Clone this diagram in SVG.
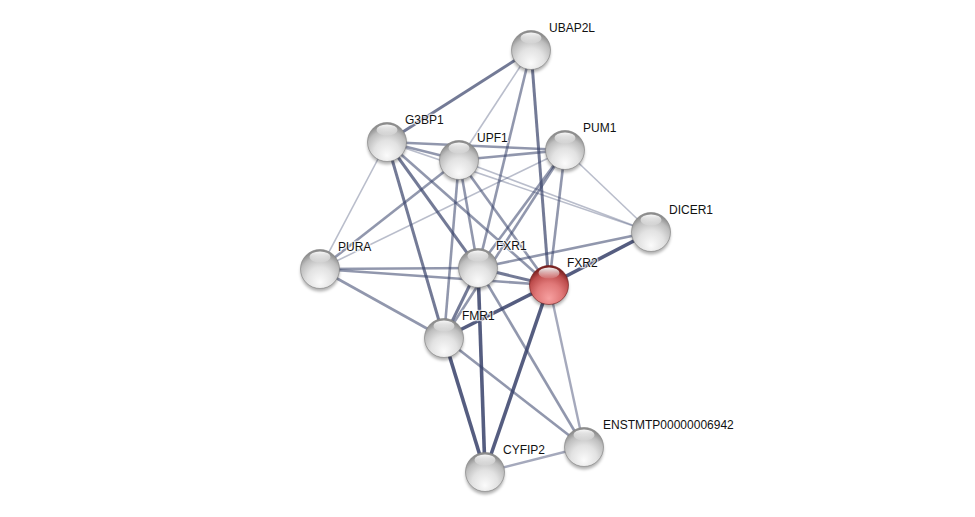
<svg xmlns="http://www.w3.org/2000/svg" width="975" height="517" viewBox="0 0 975 517">
<defs>
<radialGradient id="gW" cx="50%" cy="72%" r="66%" fx="50%" fy="85%">
<stop offset="0" stop-color="#fbfbfb"/>
<stop offset="0.5" stop-color="#e2e2e2"/>
<stop offset="0.82" stop-color="#bdbdbd"/>
<stop offset="1" stop-color="#8e8e8e"/>
</radialGradient>
<radialGradient id="gR" cx="50%" cy="72%" r="66%" fx="50%" fy="85%">
<stop offset="0" stop-color="#f7a0a0"/>
<stop offset="0.5" stop-color="#e07878"/>
<stop offset="0.82" stop-color="#bd4c4c"/>
<stop offset="1" stop-color="#7c2222"/>
</radialGradient>
<linearGradient id="hl" x1="0" y1="0" x2="0" y2="1">
<stop offset="0" stop-color="#ffffff" stop-opacity="0.95"/>
<stop offset="1" stop-color="#ffffff" stop-opacity="0.1"/>
</linearGradient>
<filter id="sh" x="-50%" y="-50%" width="200%" height="200%">
<feGaussianBlur stdDeviation="1.6"/>
</filter>
<style>
.e{stroke:#37416a;fill:none;stroke-linecap:butt}
.e1{stroke-width:1.6;stroke-opacity:0.35}
.e1b{stroke-width:2.4;stroke-opacity:0.45}
.e2{stroke-width:2.6;stroke-opacity:0.55}
.e3{stroke-width:3;stroke-opacity:0.7}
.e4{stroke-width:3.6;stroke-opacity:0.85}
.sh{fill:#000;fill-opacity:0.3;filter:url(#sh)}
.nw{fill:url(#gW);stroke:#7d7d7d;stroke-width:0.6}
.nr{fill:url(#gR);stroke:#6e1a1a;stroke-width:0.6}
.h{fill:url(#hl)}
.t{font-family:"Liberation Sans",Arial,sans-serif;font-size:12px;fill:#111;stroke:#ffffff;stroke-width:2.5;stroke-opacity:0.7;paint-order:stroke;stroke-linejoin:round}
</style>
</defs>
<rect width="975" height="517" fill="#ffffff"/>
<g id="edges">
<line class="e e3" x1="531" y1="50" x2="387" y2="142"/>
<line class="e e1" x1="531" y1="50" x2="459" y2="160"/>
<line class="e e2" x1="531" y1="50" x2="478" y2="268"/>
<line class="e e3" x1="531" y1="50" x2="549" y2="285"/>
<line class="e e1" x1="387" y1="142" x2="320" y2="269"/>
<line class="e e2" x1="387" y1="142" x2="459" y2="160"/>
<line class="e e2" x1="387" y1="142" x2="565" y2="150"/>
<line class="e e1" x1="387" y1="142" x2="651" y2="232"/>
<line class="e e3" x1="387" y1="142" x2="478" y2="268"/>
<line class="e e2" x1="387" y1="142" x2="549" y2="285"/>
<line class="e e3" x1="387" y1="142" x2="444" y2="338"/>
<line class="e e2" x1="459" y1="160" x2="565" y2="150"/>
<line class="e e1" x1="459" y1="160" x2="651" y2="232"/>
<line class="e e2" x1="459" y1="160" x2="320" y2="269"/>
<line class="e e2" x1="459" y1="160" x2="478" y2="268"/>
<line class="e e2" x1="459" y1="160" x2="444" y2="338"/>
<line class="e e2" x1="459" y1="160" x2="549" y2="285"/>
<line class="e e1" x1="565" y1="150" x2="320" y2="269"/>
<line class="e e1" x1="565" y1="150" x2="651" y2="232"/>
<line class="e e2" x1="565" y1="150" x2="478" y2="268"/>
<line class="e e2" x1="565" y1="150" x2="444" y2="338"/>
<line class="e e2" x1="565" y1="150" x2="549" y2="285"/>
<line class="e e2" x1="651" y1="232" x2="478" y2="268"/>
<line class="e e4" x1="651" y1="232" x2="549" y2="285"/>
<line class="e e2" x1="320" y1="269" x2="478" y2="268"/>
<line class="e e2" x1="320" y1="269" x2="549" y2="285"/>
<line class="e e2" x1="320" y1="269" x2="444" y2="338"/>
<line class="e e3" x1="478" y1="268" x2="549" y2="285"/>
<line class="e e3" x1="478" y1="268" x2="444" y2="338"/>
<line class="e e4" x1="478" y1="268" x2="485" y2="472"/>
<line class="e e2" x1="478" y1="268" x2="584" y2="447"/>
<line class="e e4" x1="549" y1="285" x2="444" y2="338"/>
<line class="e e4" x1="549" y1="285" x2="485" y2="472"/>
<line class="e e1b" x1="549" y1="285" x2="584" y2="447"/>
<line class="e e4" x1="444" y1="338" x2="485" y2="472"/>
<line class="e e2" x1="444" y1="338" x2="584" y2="447"/>
<line class="e e1b" x1="485" y1="472" x2="584" y2="447"/>
</g>
<g id="UBAP2L"><circle class="sh" cx="531" cy="53" r="19.5"/><circle class="nw" cx="531" cy="50" r="19.5"/><ellipse class="h" cx="531" cy="38" rx="10.5" ry="5.5"/><text class="t" x="549" y="32">UBAP2L</text></g>
<g id="G3BP1"><circle class="sh" cx="387" cy="145" r="19.5"/><circle class="nw" cx="387" cy="142" r="19.5"/><ellipse class="h" cx="387" cy="130" rx="10.5" ry="5.5"/><text class="t" x="405" y="124">G3BP1</text></g>
<g id="UPF1"><circle class="sh" cx="459" cy="163" r="19.5"/><circle class="nw" cx="459" cy="160" r="19.5"/><ellipse class="h" cx="459" cy="148" rx="10.5" ry="5.5"/><text class="t" x="477" y="142">UPF1</text></g>
<g id="PUM1"><circle class="sh" cx="565" cy="153" r="19.5"/><circle class="nw" cx="565" cy="150" r="19.5"/><ellipse class="h" cx="565" cy="138" rx="10.5" ry="5.5"/><text class="t" x="583" y="132">PUM1</text></g>
<g id="DICER1"><circle class="sh" cx="651" cy="235" r="19.5"/><circle class="nw" cx="651" cy="232" r="19.5"/><ellipse class="h" cx="651" cy="220" rx="10.5" ry="5.5"/><text class="t" x="669" y="214">DICER1</text></g>
<g id="PURA"><circle class="sh" cx="320" cy="272" r="19.5"/><circle class="nw" cx="320" cy="269" r="19.5"/><ellipse class="h" cx="320" cy="257" rx="10.5" ry="5.5"/><text class="t" x="338" y="251">PURA</text></g>
<g id="FXR1"><circle class="sh" cx="478" cy="271" r="19.5"/><circle class="nw" cx="478" cy="268" r="19.5"/><ellipse class="h" cx="478" cy="256" rx="10.5" ry="5.5"/><text class="t" x="496" y="250">FXR1</text></g>
<g id="FXR2"><circle class="sh" cx="549" cy="288" r="19.5"/><circle class="nr" cx="549" cy="285" r="19.5"/><ellipse class="h" cx="549" cy="273" rx="10.5" ry="5.5"/><text class="t" x="567" y="267">FXR2</text></g>
<g id="FMR1"><circle class="sh" cx="444" cy="341" r="19.5"/><circle class="nw" cx="444" cy="338" r="19.5"/><ellipse class="h" cx="444" cy="326" rx="10.5" ry="5.5"/><text class="t" x="462" y="320">FMR1</text></g>
<g id="ENSTMTP00000006942"><circle class="sh" cx="584" cy="450" r="19.5"/><circle class="nw" cx="584" cy="447" r="19.5"/><ellipse class="h" cx="584" cy="435" rx="10.5" ry="5.5"/><text class="t" x="603" y="429">ENSTMTP00000006942</text></g>
<g id="CYFIP2"><circle class="sh" cx="485" cy="475" r="19.5"/><circle class="nw" cx="485" cy="472" r="19.5"/><ellipse class="h" cx="485" cy="460" rx="10.5" ry="5.5"/><text class="t" x="503" y="454">CYFIP2</text></g>
</svg>
